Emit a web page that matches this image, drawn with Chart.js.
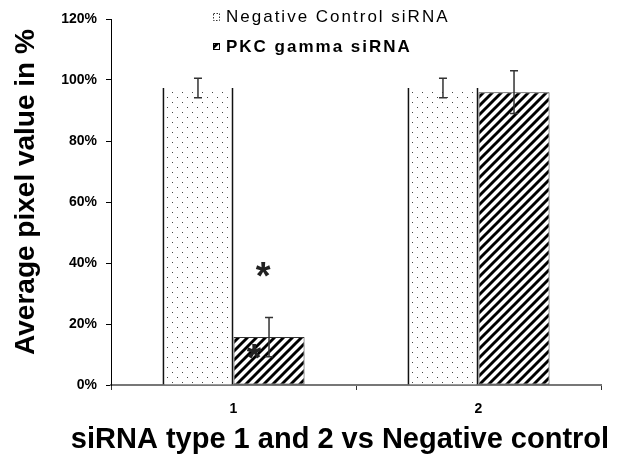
<!DOCTYPE html>
<html>
<head>
<meta charset="utf-8">
<script src="https://cdn.jsdelivr.net/npm/chart.js@4"></script>
<style>
    html, body { margin: 0; padding: 0; background: #fff; }
    #wrap { width: 621px; height: 462px; }
</style>
</head>
<body>
<div id="wrap"><canvas id="chart" width="621" height="462"></canvas></div>
<script>
// data
const categories = ["1", "2"];
const seriesNames = ["Negative Control siRNA", "PKC gamma siRNA"];
const negControl = [97.4, 97.4];
const negControlErr = [3.2, 3.2];
const pkcGamma = [15.7, 96];
const pkcGammaErr = [6.4, 7];
const starValues = [38, 11]; // asterisks over the first PKC bar

const FONT = "'Liberation Sans', Arial, sans-serif";

function dotPattern() {
    let c = document.createElement("canvas");
    c.width = 10; c.height = 10;
    let g = c.getContext("2d");
    g.fillStyle = "#fff";
    g.fillRect(0, 0, 10, 10);
    g.fillStyle = "#444";
    g.fillRect(2, 2, 1, 1);
    g.fillRect(7, 7, 1, 1);
    return document.getElementById("chart").getContext("2d").createPattern(c, "repeat");
}

function hatchPattern() {
    let s = 9;
    let c = document.createElement("canvas");
    c.width = s; c.height = s;
    let g = c.getContext("2d");
    g.fillStyle = "#fff";
    g.fillRect(0, 0, s, s);
    g.strokeStyle = "#000";
    g.lineWidth = 2.9;
    g.beginPath();
    g.moveTo(-2, s + 2); g.lineTo(s + 2, -2);
    g.moveTo(-2, 2); g.lineTo(2, -2);
    g.moveTo(s - 2, s + 2); g.lineTo(s + 2, s - 2);
    g.stroke();
    return document.getElementById("chart").getContext("2d").createPattern(c, "repeat");
}

const dots = dotPattern();
const hatch = hatchPattern();
const errors = [negControlErr, pkcGammaErr];

const errorBars = {
    id: "errorBars",
    afterDatasetsDraw(chart) {
        let ctx = chart.ctx;
        let y = chart.scales.y;
        ctx.save();
        ctx.strokeStyle = "#333";
        ctx.lineWidth = 1.5;
        chart.data.datasets.forEach((ds, i) => {
            chart.getDatasetMeta(i).data.forEach((bar, j) => {
                let top = y.getPixelForValue(ds.data[j] + errors[i][j]);
                let bot = y.getPixelForValue(ds.data[j] - errors[i][j]);
                ctx.beginPath();
                ctx.moveTo(bar.x, top); ctx.lineTo(bar.x, bot);
                ctx.moveTo(bar.x - 4, top); ctx.lineTo(bar.x + 4, top);
                ctx.moveTo(bar.x - 4, bot); ctx.lineTo(bar.x + 4, bot);
                ctx.stroke();
            });
        });
        ctx.restore();
    }
};

const extras = {
    id: "extras",
    afterDraw(chart) {
        let ctx = chart.ctx;
        let y = chart.scales.y;
        let bar = chart.getDatasetMeta(1).data[0];
        ctx.save();
        // asterisks
        ctx.fillStyle = "#222";
        ctx.font = "bold 38px " + FONT;
        ctx.textAlign = "center";
        ctx.textBaseline = "middle";
        ctx.fillText("*", bar.x - 6, y.getPixelForValue(starValues[0]) + 9);
        ctx.fillText("*", bar.x - 15, y.getPixelForValue(starValues[1]) + 9);

        // legend
        ctx.textAlign = "left";
        ctx.letterSpacing = "2px";
        ctx.fillStyle = "#000";
        ctx.font = "17px " + FONT;
        ctx.fillText(seriesNames[0], 226, 17);
        ctx.font = "bold 17px " + FONT;
        ctx.fillText(seriesNames[1], 226, 47);
        ctx.letterSpacing = "0px";
        ctx.setLineDash([1.5, 1.5]);
        ctx.strokeStyle = "#333";
        ctx.lineWidth = 1;
        ctx.strokeRect(213.5, 13.5, 6, 7);
        ctx.setLineDash([]);
        ctx.fillStyle = hatch;
        ctx.fillRect(213, 43, 7, 7);
        ctx.strokeStyle = "#000";
        ctx.strokeRect(213.5, 43.5, 6, 6);

        // axis titles
        ctx.fillStyle = "#000";
        ctx.font = "bold 29px " + FONT;
        ctx.textAlign = "center";
        ctx.textBaseline = "alphabetic";
        ctx.fillText("siRNA type 1 and 2 vs Negative control", 340, 448);

        ctx.translate(34, 192);
        ctx.rotate(-Math.PI / 2);
        ctx.font = "bold 28px " + FONT;
        ctx.fillText("Average pixel value in %", 0, 0);
        ctx.restore();
    }
};

new Chart(document.getElementById("chart"), {
    type: "bar",
    data: {
        labels: categories,
        datasets: [
            {
                label: seriesNames[0],
                data: negControl,
                backgroundColor: dots,
                borderColor: "#111",
                borderWidth: { left: 2, right: 2, top: 0, bottom: 0 },
                borderSkipped: false,
                barPercentage: 1,
                categoryPercentage: 0.58
            },
            {
                label: seriesNames[1],
                data: pkcGamma,
                backgroundColor: hatch,
                borderColor: "#333",
                borderWidth: 1,
                borderSkipped: false,
                barPercentage: 1,
                categoryPercentage: 0.58
            }
        ]
    },
    options: {
        responsive: false,
        animation: false,
        layout: { padding: { top: 19, right: 20, left: 0, bottom: 0 } },
        plugins: { legend: { display: false }, tooltip: { enabled: false } },
        scales: {
            x: {
                afterFit: s => { s.height = 77; },
                grid: { drawOnChartArea: false, tickLength: 5, color: "#333" },
                border: { color: "#777", width: 2 },
                ticks: { color: "#000", font: { family: FONT, size: 14, weight: "bold" }, padding: 11 }
            },
            y: {
                min: 0,
                max: 120,
                afterFit: s => { s.width = 111; },
                grid: { drawOnChartArea: false, tickLength: 5, color: "#000" },
                border: { color: "#000", width: 1 },
                ticks: {
                    stepSize: 20,
                    color: "#000",
                    padding: 9,
                    font: { family: FONT, size: 14, weight: "bold" },
                    callback: v => v + "%"
                }
            }
        }
    },
    plugins: [errorBars, extras]
});
</script>
</body>
</html>
